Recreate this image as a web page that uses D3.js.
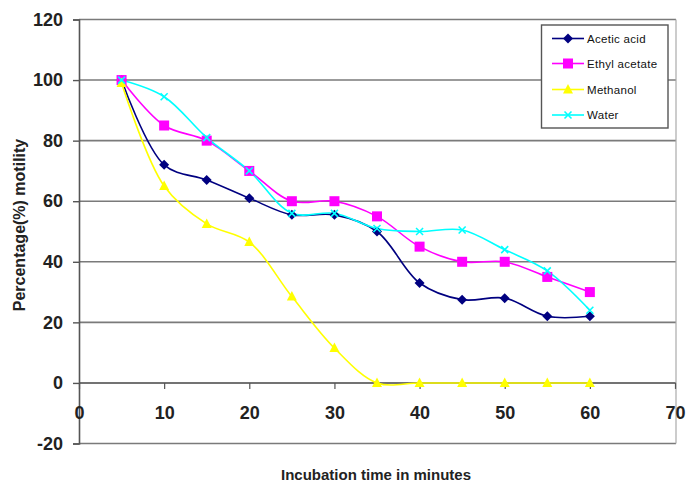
<!DOCTYPE html>
<html>
<head>
<meta charset="utf-8">
<script src="https://cdn.jsdelivr.net/npm/d3@7"></script>
<style>
  body { margin: 0; background: #fff; }
  text { font-family: "Liberation Sans", Arial, sans-serif; }
</style>
</head>
<body>
<svg id="chart" width="689" height="486"></svg>
<script>
const times = [5, 10, 15, 20, 25, 30, 35, 40, 45, 50, 55, 60];
const aceticAcid   = [100, 72, 67, 61, 55.5, 55.5, 50, 33, 27.5, 28, 22, 22];
const ethylAcetate = [100, 85, 80, 70, 60, 60, 55, 45, 40, 40, 35, 30];
const methanol     = [99, 65, 52.5, 46.5, 28.5, 11.5, 0, 0, 0, 0, 0, 0];
const water        = [100, 94.5, 81, 70, 56, 56, 51, 50, 50.5, 44, 37, 24];
const seriesNames  = ["Acetic acid", "Ethyl acetate", "Methanol", "Water"];
const seriesColors = ["#000080", "#ff00ff", "#ffff00", "#00ffff"];
const seriesMarkers = ["diamond", "square", "triangle", "x"];
const xTicks = [0, 10, 20, 30, 40, 50, 60, 70];
const yTicks = [-20, 0, 20, 40, 60, 80, 100, 120];
const xTitle = "Incubation time in minutes";
const yTitle = "Percentage(%) motility";

const allSeries = [aceticAcid, ethylAcetate, methanol, water];
const svg = d3.select("#chart");
const x = d3.scaleLinear().domain([0, 70]).range([79, 675]);
const y = d3.scaleLinear().domain([-20, 120]).range([443.5, 19.5]);
const fmt = d => String(d);

// gridlines
svg.append("g").selectAll("line").data(yTicks).join("line")
  .attr("x1", 79).attr("x2", 676)
  .attr("y1", d => y(d)).attr("y2", d => y(d))
  .attr("stroke", d => d === 0 ? "#444" : "#7a7a7a").attr("stroke-width", 1.6);

// right border
svg.append("line").attr("x1", 676).attr("x2", 676).attr("y1", y(120)).attr("y2", y(-20))
  .attr("stroke", "#aaa").attr("stroke-width", 1.2);

// y axis
const yAxis = svg.append("g").attr("transform", "translate(79,0)")
  .call(d3.axisLeft(y).tickValues(yTicks).tickSize(6).tickPadding(10).tickFormat(fmt));
yAxis.select(".domain").attr("stroke", "#555").attr("stroke-width", 1.6);
yAxis.selectAll(".tick line").attr("stroke", "#555").attr("stroke-width", 1.4);
yAxis.selectAll(".tick text").attr("font-size", 18).attr("font-weight", "bold")
  .attr("fill", "#222").attr("font-family", "Liberation Sans, Arial, sans-serif");

// x axis at y=0
const xAxis = svg.append("g").attr("transform", `translate(0,${y(0)})`)
  .call(d3.axisBottom(x).tickValues(xTicks).tickSize(6).tickPadding(17).tickFormat(fmt));
xAxis.select(".domain").remove();
xAxis.selectAll(".tick line").attr("stroke", "#555").attr("stroke-width", 1.2);
xAxis.selectAll(".tick text").attr("font-size", 18).attr("font-weight", "bold")
  .attr("fill", "#222").attr("font-family", "Liberation Sans, Arial, sans-serif");

// lines
const line = d3.line().x((d, i) => x(times[i])).y(d => y(d)).curve(d3.curveCatmullRom.alpha(0.5));
allSeries.forEach((s, k) => {
  svg.append("path").datum(s).attr("d", line).attr("fill", "none")
    .attr("stroke", seriesColors[k]).attr("stroke-width", 1.6);
});

function marker(g, type, color, cx, cy) {
  if (type === "diamond") {
    g.append("path").attr("d", `M${cx},${cy-5}L${cx+5},${cy}L${cx},${cy+5}L${cx-5},${cy}Z`).attr("fill", color);
  } else if (type === "square") {
    g.append("rect").attr("x", cx-5).attr("y", cy-5).attr("width", 10).attr("height", 10).attr("fill", color);
  } else if (type === "triangle") {
    g.append("path").attr("d", `M${cx},${cy-5.5}L${cx+5},${cy+4}L${cx-5},${cy+4}Z`).attr("fill", color);
  } else {
    g.append("path").attr("d", `M${cx-3.5},${cy-3.5}L${cx+3.5},${cy+3.5}M${cx-3.5},${cy+3.5}L${cx+3.5},${cy-3.5}`)
      .attr("stroke", color).attr("stroke-width", 1.6);
  }
}
allSeries.forEach((s, k) => {
  const g = svg.append("g");
  s.forEach((v, i) => marker(g, seriesMarkers[k], seriesColors[k], x(times[i]), y(v)));
});

// legend
const lg = svg.append("g");
lg.append("rect").attr("x", 541.5).attr("y", 25).attr("width", 126.5).attr("height", 103)
  .attr("fill", "#fff").attr("stroke", "#555").attr("stroke-width", 1.4);
const legY = [38.5, 63.5, 89.5, 115];
seriesNames.forEach((n, k) => {
  lg.append("line").attr("x1", 552).attr("x2", 584).attr("y1", legY[k]).attr("y2", legY[k])
    .attr("stroke", seriesColors[k]).attr("stroke-width", 1.6);
  marker(lg, seriesMarkers[k], seriesColors[k], 568, legY[k]);
  lg.append("text").attr("x", 587).attr("y", legY[k]).attr("dy", "0.35em")
    .attr("font-size", 11.5).attr("letter-spacing", 0.3).attr("fill", "#111").text(n);
});

// titles
svg.append("text").attr("x", 376).attr("y", 480).attr("text-anchor", "middle")
  .attr("font-size", 15).attr("font-weight", "bold").attr("fill", "#222").text(xTitle);
svg.append("text").attr("transform", "translate(25,225) rotate(-90)").attr("text-anchor", "middle")
  .attr("font-size", 16).attr("font-weight", "bold").attr("fill", "#222").text(yTitle);
</script>
</body>
</html>
